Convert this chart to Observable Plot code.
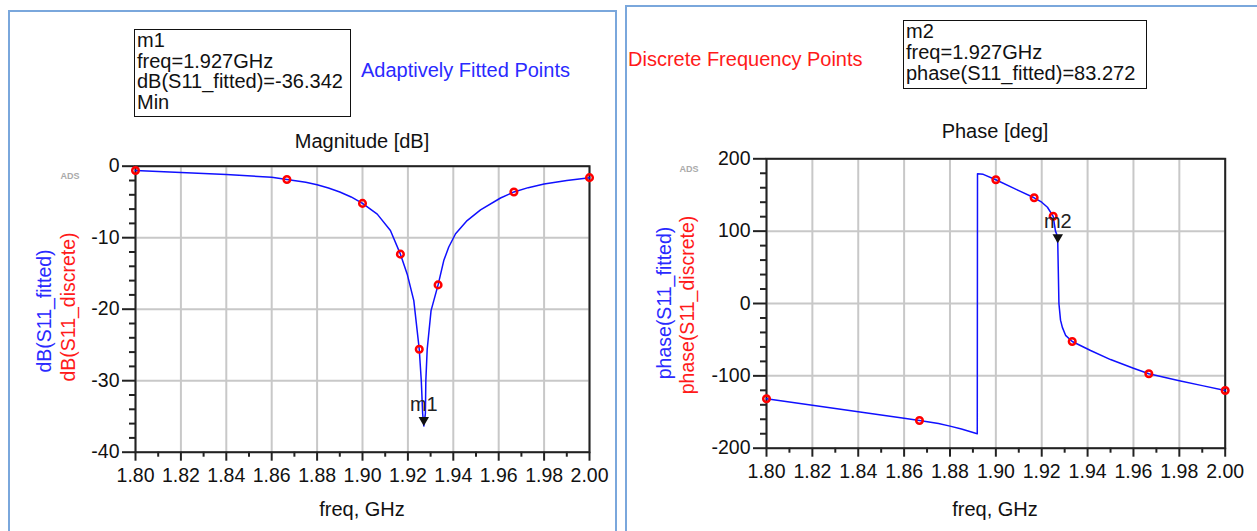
<!DOCTYPE html>
<html><head><meta charset="utf-8">
<script src="https://cdn.jsdelivr.net/npm/d3@7"></script>
<script src="https://cdn.jsdelivr.net/npm/@observablehq/plot@0.6"></script>
<style>
body{margin:0;background:#fff;font-family:"Liberation Sans",Arial,sans-serif;}
#wrap{position:relative;width:1257px;height:531px;overflow:hidden;background:#fff;}
.panel{position:absolute;border:2px solid #7aa7dc;box-sizing:border-box;}
.abs{position:absolute;white-space:nowrap;font-size:20px;line-height:20px;color:#111;}
.box{position:absolute;border:1.5px solid #111;box-sizing:border-box;font-size:20px;line-height:20.5px;padding:0 0 0 2px;color:#111;white-space:nowrap;}
.vt{position:absolute;transform:translate(-50%,-50%) rotate(-90deg);white-space:nowrap;font-size:19.5px;line-height:20px;}
.ads{position:absolute;font-size:9px;font-weight:bold;color:#aaa;transform:translate(-50%,-50%);}
#wrap svg{position:absolute;overflow:visible;background:transparent;}
</style></head>
<body>
<div id="wrap">
  <div class="panel" style="left:8px;top:10px;width:609px;height:560px;"></div>
  <div class="panel" style="left:625px;top:5px;width:700px;height:560px;"></div>
</div>
<script>
// ---- Data ----
const xTicks = [1.80, 1.82, 1.84, 1.86, 1.88, 1.90, 1.92, 1.94, 1.96, 1.98, 2.00];
const xMinor = [1.81, 1.83, 1.85, 1.87, 1.89, 1.91, 1.93, 1.95, 1.97, 1.99];
const magTicks = [0, -10, -20, -30, -40];
const magMinor = [-2, -4, -6, -8, -12, -14, -16, -18, -22, -24, -26, -28, -32, -34, -36, -38];
const phaseTicks = [200, 100, 0, -100, -200];
const phaseMinor = [180, 160, 140, 120, 80, 60, 40, 20, -20, -40, -60, -80, -120, -140, -160, -180];

// Adaptively fitted magnitude (dB)
const magFitFreq = [1.80, 1.82, 1.84, 1.86, 1.8667, 1.875, 1.88, 1.885, 1.89, 1.895, 1.90, 1.9065, 1.9123, 1.9167, 1.9197, 1.9226, 1.925, 1.9259, 1.9265, 1.927, 1.9277, 1.9279, 1.9285, 1.9302, 1.9333, 1.9358, 1.938, 1.941, 1.9461, 1.952, 1.9608, 1.9667, 1.973, 1.98, 1.99, 2.00];
const magFit = [-0.6, -0.88, -1.16, -1.54, -1.86, -2.25, -2.6, -3.05, -3.6, -4.3, -5.2, -6.7, -9.0, -12.3, -15.1, -18.8, -25.6, -30, -34.6, -36.342, -34.6, -30, -25.6, -20.2, -16.6, -13.2, -11.3, -9.45, -7.6, -6.1, -4.45, -3.6, -3.0, -2.5, -2.0, -1.6];

// Discrete frequency points
const discFreq = [1.80, 1.8667, 1.90, 1.9167, 1.925, 1.9333, 1.9667, 2.00];
const magDisc = [-0.6, -1.86, -5.2, -12.3, -25.6, -16.6, -3.6, -1.6];
const phaseDisc = [-131.7, -161.7, 171, 146.1, 120.5, -52.5, -97.2, -120.2];

// Adaptively fitted phase (deg)
const phaseFitFreq = [1.80, 1.82, 1.84, 1.86, 1.8667, 1.875, 1.88, 1.885, 1.8919, 1.892, 1.8945, 1.90, 1.91, 1.9167, 1.92, 1.9225, 1.925, 1.926, 1.9265, 1.927, 1.9272, 1.9275, 1.9282, 1.929, 1.9304, 1.9333, 1.9413, 1.95, 1.96, 1.9667, 1.98, 1.99, 2.00];
const phaseFit = [-131.7, -140.7, -149.7, -158.7, -161.7, -166, -169.5, -173.5, -180, 179.3, 178.5, 171, 156, 146.1, 140, 133, 120.5, 100, 96, 83.272, 50, 0, -23, -33, -44, -52.5, -65, -77.5, -89.5, -97.2, -106.7, -113.5, -120.2];

// Markers
const m1Freq = [1.927], m1Val = [-36.342];
const m2Freq = [1.927], m2Val = [83.272];

// ---- Build ----
const wrap = document.getElementById("wrap");
const fmt = d3.format(".2f");
const yFmt = d => String(d);
const FONT = '"Liberation Sans", Arial, sans-serif';

function panel({fitF, fitV, discV, mF, mV, mName, yDom, yTicks, yMinor, left, width, margins}) {
  const fit = fitF.map((f, i) => ({f, v: fitV[i]}));
  const disc = discFreq.map((f, i) => ({f, v: discV[i]}));
  const mk = mF.map((f, i) => ({f, v: mV[i], name: mName}));
  const svg = Plot.plot({
    width, height: 531,
    marginLeft: margins[0], marginRight: margins[1], marginTop: margins[2], marginBottom: margins[3],
    style: {fontFamily: FONT, color: "#111", background: "transparent", overflow: "visible"},
    x: {domain: [1.8, 2.0], axis: null},
    y: {domain: yDom, axis: null},
    marks: [
      Plot.gridX(xTicks, {stroke: "#c8c8c8", strokeOpacity: 1, strokeWidth: 2}),
      Plot.gridY(yTicks, {stroke: "#c8c8c8", strokeOpacity: 1, strokeWidth: 2}),
      Plot.axisX(xMinor, {tickSize: 5, tickFormat: () => "", stroke: "#222", strokeWidth: 2, label: null}),
      Plot.axisX(xTicks, {tickSize: 9, tickPadding: 7, tickFormat: fmt, fontSize: 19.5, stroke: "#222", strokeWidth: 2, label: null}),
      Plot.axisY(yMinor, {tickSize: 6, tickFormat: () => "", stroke: "#222", strokeWidth: 2, label: null}),
      Plot.axisY(yTicks, {tickSize: 13, tickPadding: 3, tickFormat: yFmt, fontSize: 19.5, stroke: "#222", strokeWidth: 2, label: null}),
      Plot.frame({stroke: "#222", strokeWidth: 2}),
      Plot.line(fit, {x: "f", y: "v", stroke: "#1010ff", strokeWidth: 1.5}),
      Plot.dot(disc, {x: "f", y: "v", r: 3.3, stroke: "#ff0000", strokeWidth: 2.5, fill: "none"}),
      Plot.dot(mk, {x: "f", y: "v", symbol: "triangle", rotate: 180, r: 3.9, fill: "#111", dy: -6}),
      Plot.text(mk, {x: "f", y: "v", text: "name", dy: -21.4, fontSize: 20, fill: "#222"})
    ]
  });
  svg.style.left = left + "px";
  svg.style.top = "0px";
  wrap.appendChild(svg);
}

panel({fitF: magFitFreq, fitV: magFit, discV: magDisc, mF: m1Freq, mV: m1Val, mName: "m1",
  yDom: [-40, 0], yTicks: magTicks, yMinor: magMinor, left: 0, width: 617, margins: [135, 28, 165.7, 79.3]});
panel({fitF: phaseFitFreq, fitV: phaseFit, discV: phaseDisc, mF: m2Freq, mV: m2Val, mName: "m2",
  yDom: [-200, 200], yTicks: phaseTicks, yMinor: phaseMinor, left: 625, width: 632, margins: [141, 32.3, 158.3, 83.3]});

// ---- Texts ----
function add(html, cls, style) {
  const d = document.createElement("div");
  d.className = cls; d.innerHTML = html; d.setAttribute("style", style);
  wrap.appendChild(d); return d;
}
add(`m1<br>freq=${m1Freq[0]}GHz<br>dB(S11_fitted)=${m1Val[0]}<br>Min`, "box", "left:134px;top:29px;width:217px;height:88px;");
add(`m2<br>freq=${m2Freq[0]}GHz<br>phase(S11_fitted)=${m2Val[0]}`, "box", "left:903px;top:20px;width:244px;height:69px;line-height:21px;");
add("Adaptively Fitted Points", "abs", "left:361px;top:60px;color:#2a2aff;");
add("Discrete Frequency Points", "abs", "left:628px;top:49px;color:#ff1a1a;");
add("Magnitude [dB]", "abs", "left:362px;top:131px;transform:translateX(-50%);");
add("Phase [deg]", "abs", "left:995px;top:121px;transform:translateX(-50%);");
add("freq, GHz", "abs", "left:362px;top:499px;transform:translateX(-50%);");
add("freq, GHz", "abs", "left:995px;top:499px;transform:translateX(-50%);");
add("dB(S11_fitted)", "vt", "left:44px;top:311px;color:#2a2aff;");
add("dB(S11_discrete)", "vt", "left:68px;top:307px;color:#ff1a1a;");
add("phase(S11_fitted)", "vt", "left:664px;top:303px;color:#2a2aff;");
add("phase(S11_discrete)", "vt", "left:687px;top:305px;color:#ff1a1a;");
add("ADS", "ads", "left:70px;top:176px;");
add("ADS", "ads", "left:689px;top:169px;");
</script>
</body></html>
